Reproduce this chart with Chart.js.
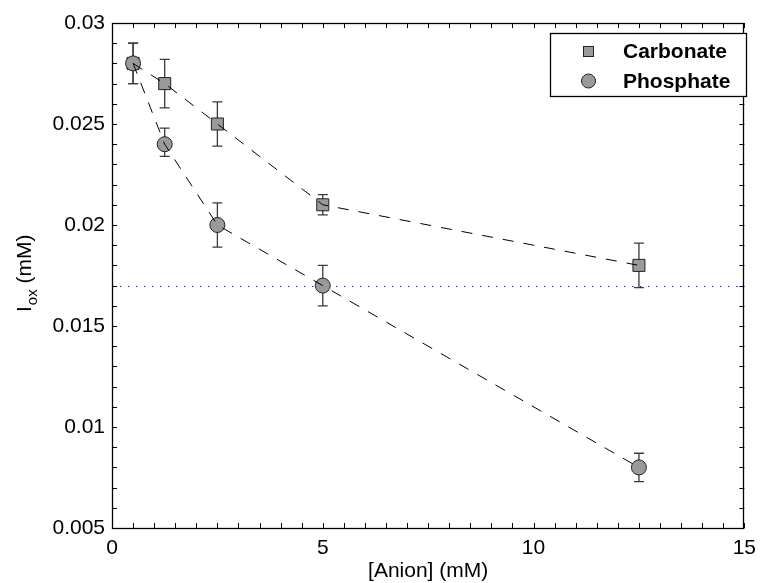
<!DOCTYPE html>
<html>
<head>
<meta charset="utf-8">
<script src="https://cdn.jsdelivr.net/npm/chart.js@4/dist/chart.umd.min.js"></script>
<style>
    html, body { margin: 0; padding: 0; background: #fff; }
    #wrap { width: 764px; height: 583px; }
</style>
</head>
<body>
<div id="wrap"><canvas id="chart"></canvas></div>
<script>
const anion = [0.5, 1.25, 2.5, 5, 12.5];

const carbonate = [0.028, 0.027, 0.025, 0.021, 0.018];
const carbonateLow = [0.027, 0.0258, 0.0239, 0.0205, 0.0169];
const carbonateHigh = [0.029, 0.0282, 0.0261, 0.0215, 0.0191];

const phosphate = [0.028, 0.024, 0.020, 0.017, 0.008];
const phosphateLow = [0.027, 0.0234, 0.0189, 0.0160, 0.0073];
const phosphateHigh = [0.029, 0.0248, 0.0211, 0.0180, 0.0087];

const refLevel = 0.017;

const xTicks = [0, 5, 10, 15];
const yTicks = [0.005, 0.01, 0.015, 0.02, 0.025, 0.03];

const FONT = '"Liberation Sans", Arial, Helvetica, sans-serif';
const markerFill = '#9a9a9a';
const markerEdge = '#222';

const toPoints = (xs, ys) => xs.map((x, i) => ({ x: x, y: ys[i] }));

// error bars + reference line, drawn under the markers
const underlayPlugin = {
    id: 'underlay',
    beforeDatasetsDraw(chart) {
        const ctx = chart.ctx;
        const xs = chart.scales.x;
        const ys = chart.scales.y;
        const area = chart.chartArea;

        ctx.save();
        ctx.strokeStyle = '#2020ff';
        ctx.lineWidth = 1;
        ctx.setLineDash([1.5, 6.5]);
        const yr = Math.round(ys.getPixelForValue(refLevel)) + 0.5;
        ctx.beginPath();
        ctx.moveTo(area.left, yr);
        ctx.lineTo(area.right, yr);
        ctx.stroke();
        ctx.restore();

        const bars = [
            [carbonateLow, carbonateHigh],
            [phosphateLow, phosphateHigh]
        ];
        ctx.save();
        ctx.strokeStyle = '#3a3a3a';
        ctx.lineWidth = 1.3;
        bars.forEach(([lo, hi]) => {
            anion.forEach((a, i) => {
                const px = xs.getPixelForValue(a);
                const y1 = ys.getPixelForValue(lo[i]);
                const y2 = ys.getPixelForValue(hi[i]);
                ctx.beginPath();
                ctx.moveTo(px, y1);
                ctx.lineTo(px, y2);
                ctx.moveTo(px - 5, y1);
                ctx.lineTo(px + 5, y1);
                ctx.moveTo(px - 5, y2);
                ctx.lineTo(px + 5, y2);
                ctx.stroke();
            });
        });
        ctx.restore();
    }
};

// box, inward ticks, titles and legend
const framePlugin = {
    id: 'frame',
    afterDraw(chart) {
        const ctx = chart.ctx;
        const xs = chart.scales.x;
        const ys = chart.scales.y;
        const a = chart.chartArea;
        const tl = 5;

        ctx.save();
        ctx.strokeStyle = '#000';
        ctx.lineWidth = 1;
        ctx.beginPath();
        for (let v = xs.min; v <= xs.max + 1e-9; v += 0.5) {
            const px = Math.round(xs.getPixelForValue(v)) + 0.5;
            ctx.moveTo(px, a.bottom);
            ctx.lineTo(px, a.bottom - tl);
            ctx.moveTo(px, a.top);
            ctx.lineTo(px, a.top + tl);
        }
        for (let v = ys.min; v <= ys.max + 1e-9; v += 0.001) {
            const py = Math.round(ys.getPixelForValue(v)) + 0.5;
            ctx.moveTo(a.left, py);
            ctx.lineTo(a.left + tl, py);
            ctx.moveTo(a.right, py);
            ctx.lineTo(a.right - tl, py);
        }
        ctx.stroke();

        ctx.lineWidth = 1.3;
        ctx.strokeRect(Math.round(a.left) + 0.5, Math.round(a.top) + 0.5,
            Math.round(a.right - a.left) - 1, Math.round(a.bottom - a.top));

        // x title
        ctx.fillStyle = '#000';
        ctx.font = '21px ' + FONT;
        ctx.textAlign = 'center';
        ctx.textBaseline = 'alphabetic';
        ctx.fillText('[Anion] (mM)', (a.left + a.right) / 2, 577);

        // y title with subscript
        ctx.save();
        ctx.translate(31, 312);
        ctx.rotate(-Math.PI / 2);
        ctx.textAlign = 'left';
        ctx.font = '21px ' + FONT;
        ctx.fillText('I', 0, 0);
        let off = ctx.measureText('I').width + 1;
        ctx.font = '15px ' + FONT;
        ctx.fillText('ox', off, 6);
        off += ctx.measureText('ox').width;
        ctx.font = '21px ' + FONT;
        ctx.fillText(' (mM)', off, 0);
        ctx.restore();

        // legend
        const lx = 550, ly = 33, lw = 196, lh = 63;
        ctx.fillStyle = '#fff';
        ctx.fillRect(lx, ly, lw, lh);
        ctx.strokeStyle = '#000';
        ctx.lineWidth = 1.3;
        ctx.strokeRect(lx + 0.5, ly + 0.5, lw, lh);

        ctx.fillStyle = markerFill;
        ctx.strokeStyle = markerEdge;
        ctx.lineWidth = 1;
        ctx.fillRect(583, 46, 11, 11);
        ctx.strokeRect(583.5, 46.5, 10, 10);
        ctx.beginPath();
        ctx.arc(588.5, 81, 7, 0, Math.PI * 2);
        ctx.fill();
        ctx.stroke();

        ctx.fillStyle = '#000';
        ctx.font = 'bold 21px ' + FONT;
        ctx.textAlign = 'left';
        ctx.textBaseline = 'middle';
        ctx.fillText('Carbonate', 623, 52);
        ctx.fillText('Phosphate', 623, 82);
        ctx.restore();
    }
};

new Chart(document.getElementById('chart'), {
    type: 'scatter',
    data: {
        datasets: [
            {
                label: 'Carbonate line',
                data: toPoints(anion, carbonate),
                showLine: true,
                borderColor: '#000',
                borderWidth: 1,
                borderDash: [11, 10],
                pointRadius: 0,
                fill: false,
                order: 1
            },
            {
                label: 'Phosphate line',
                data: toPoints(anion, phosphate),
                showLine: true,
                borderColor: '#000',
                borderWidth: 1,
                borderDash: [11, 10],
                pointRadius: 0,
                fill: false,
                order: 0
            },
            {
                label: 'Carbonate',
                data: toPoints(anion, carbonate),
                pointStyle: 'rect',
                pointRadius: 8.5,
                backgroundColor: markerFill,
                borderColor: markerEdge,
                borderWidth: 1,
                order: 3
            },
            {
                label: 'Phosphate',
                data: toPoints(anion, phosphate),
                pointStyle: 'circle',
                pointRadius: 7.5,
                backgroundColor: markerFill,
                borderColor: markerEdge,
                borderWidth: 1,
                order: 2
            }
        ]
    },
    options: {
        responsive: true,
        maintainAspectRatio: false,
        animation: false,
        layout: { padding: { top: 23, right: 14, left: 0, bottom: 0 } },
        plugins: {
            legend: { display: false },
            tooltip: { enabled: false }
        },
        scales: {
            x: {
                type: 'linear',
                min: 0,
                max: 15,
                afterFit: (s) => { s.height = 55; },
                afterBuildTicks: (s) => { s.ticks = xTicks.map(v => ({ value: v })); },
                grid: { display: false, drawTicks: false },
                border: { display: false },
                ticks: {
                    padding: 8,
                    color: '#000',
                    font: { family: FONT, size: 21 },
                    maxRotation: 0,
                    callback: (v) => String(v)
                }
            },
            y: {
                type: 'linear',
                min: 0.005,
                max: 0.03,
                afterFit: (s) => { s.width = 112; },
                afterBuildTicks: (s) => { s.ticks = yTicks.map(v => ({ value: v })); },
                grid: { display: false, drawTicks: false },
                border: { display: false },
                ticks: {
                    padding: 7,
                    color: '#000',
                    font: { family: FONT, size: 21 },
                    callback: (v) => String(Number(v.toFixed(3)))
                }
            }
        }
    },
    plugins: [underlayPlugin, framePlugin]
});
</script>
</body>
</html>
